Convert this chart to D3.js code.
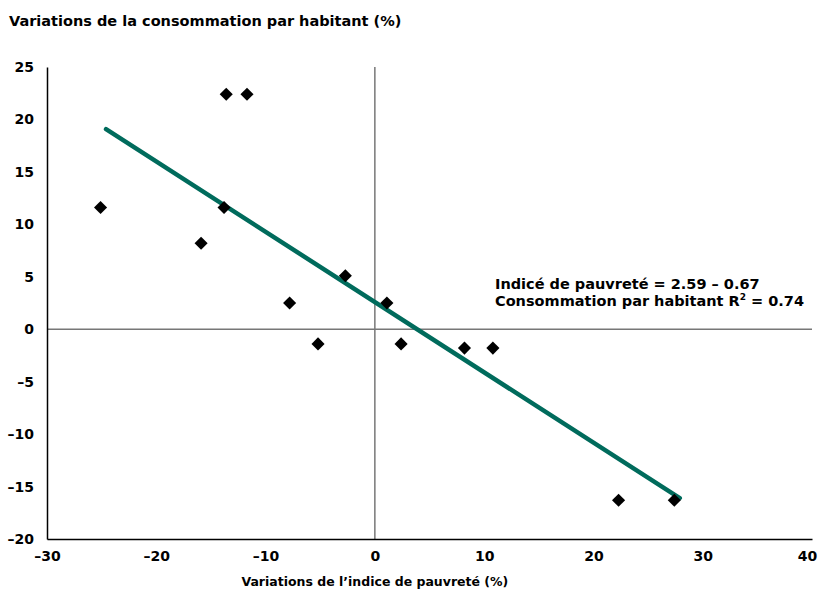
<!DOCTYPE html>
<html>
<head>
<meta charset="utf-8">
<script src="https://cdn.jsdelivr.net/npm/d3@7"></script>
<style>
  body { margin: 0; background: #fff; }
  text { font-family: "DejaVu Sans", sans-serif; font-weight: bold; fill: #000; }
</style>
</head>
<body>
<svg width="819" height="591"></svg>
<script>
// data
let xValues = [-13.6, -11.7, -25.1, -13.8, -15.9, -2.7, -7.8, -5.2, 1.1, 2.4, 8.2, 10.8, 22.3, 27.4];
let yValues = [22.4, 22.4, 11.6, 11.6, 8.2, 5.1, 2.5, -1.4, 2.5, -1.4, -1.8, -1.8, -16.3, -16.3];
let xTicks = [-30, -20, -10, 0, 10, 20, 30, 40];
let yTicks = [-20, -15, -10, -5, 0, 5, 10, 15, 20, 25];
let fitIntercept = 2.59, fitSlope = -0.67;
let fitRange = [-24.6, 27.9];

let svg = d3.select("svg"),
    margin = { top: 67, right: 7, bottom: 52, left: 47 },
    width = svg.attr("width") - margin.left - margin.right,
    height = svg.attr("height") - margin.top - margin.bottom,
    g = svg.append("g").attr("transform", "translate(" + margin.left + "," + margin.top + ")");

let x = d3.scaleLinear().domain([-30, 40]).range([0, width]);
let y = d3.scaleLinear().domain([-20, 25]).range([height, 0]);

let fmt = d => d < 0 ? "\u2013" + Math.abs(d) : d;

// title
svg.append("text")
    .attr("x", 9)
    .attr("y", 26)
    .style("font-size", "14.5px")
    .text("Variations de la consommation par habitant (%)");

// zero lines
g.append("line")
    .attr("x1", 0).attr("x2", width)
    .attr("y1", y(0)).attr("y2", y(0))
    .attr("stroke", "#777").attr("stroke-width", 1.5);
g.append("line")
    .attr("x1", x(0)).attr("x2", x(0))
    .attr("y1", 0).attr("y2", height)
    .attr("stroke", "#777").attr("stroke-width", 1.5);

// axes
let yAxis = g.append("g")
    .call(d3.axisLeft(y).tickValues(yTicks).tickSize(0).tickPadding(13).tickFormat(fmt));
yAxis.select(".domain").attr("stroke", "#000").attr("stroke-width", 1.5);
yAxis.selectAll("text").style("font-size", "14px").attr("font-family", null);

let xAxis = g.append("g")
    .attr("transform", "translate(0," + height + ")")
    .call(d3.axisBottom(x).tickValues(xTicks).tickSize(0).tickPadding(12).tickFormat(fmt));
xAxis.select(".domain").attr("stroke", "#000").attr("stroke-width", 1.5);
xAxis.selectAll("text").style("font-size", "14px").attr("font-family", null);
// keep the last label inside the page
xAxis.selectAll(".tick text").filter(d => d === 40).attr("dx", -5);

// x axis label
svg.append("text")
    .attr("x", margin.left + x(0))
    .attr("y", 586)
    .style("text-anchor", "middle")
    .style("font-size", "12.5px")
    .text("Variations de l\u2019indice de pauvret\u00e9 (%)");

// regression line
g.append("line")
    .attr("x1", x(fitRange[0])).attr("y1", y(fitIntercept + fitSlope * fitRange[0]))
    .attr("x2", x(fitRange[1])).attr("y2", y(fitIntercept + fitSlope * fitRange[1]))
    .attr("stroke", "#006b5c")
    .attr("stroke-width", 4.5)
    .attr("stroke-linecap", "round");

// points
let diamond = d3.symbol().type(d3.symbolSquare).size(86);
g.selectAll(".pt")
    .data(xValues.map((v, i) => ({ x: v, y: yValues[i] })))
    .enter().append("path")
    .attr("class", "pt")
    .attr("d", diamond)
    .attr("transform", d => "translate(" + x(d.x) + "," + y(d.y) + ") rotate(45)")
    .attr("fill", "#000");

// equation
let eq = svg.append("text")
    .attr("x", 495)
    .attr("y", 289)
    .style("font-size", "14.5px");
eq.append("tspan").text("Indic\u00e9 de pauvret\u00e9 = 2.59 \u2013 0.67");
let l2 = svg.append("text")
    .attr("x", 495)
    .attr("y", 306)
    .style("font-size", "14.5px");
l2.append("tspan").text("Consommation par habitant R");
l2.append("tspan").attr("dy", -6).style("font-size", "9px").text("2");
l2.append("tspan").attr("dy", 6).text(" = 0.74");
</script>
</body>
</html>
